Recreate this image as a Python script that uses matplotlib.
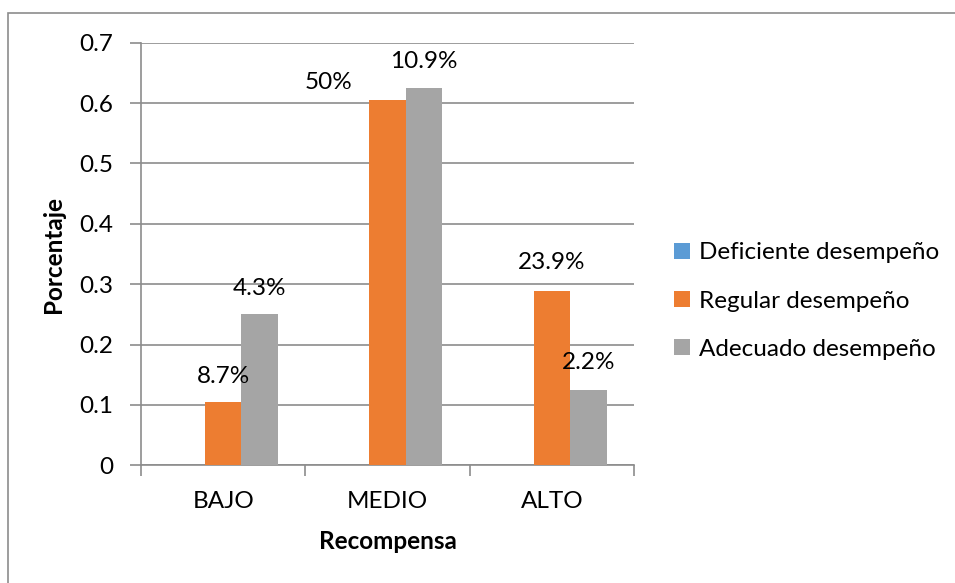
import matplotlib
matplotlib.use("Agg")
import matplotlib.pyplot as plt
from matplotlib.patches import Rectangle
import numpy as np

plt.rcParams['font.family'] = ['Lato', 'DejaVu Sans']

categories = ["BAJO", "MEDIO", "ALTO"]
series_names = ["Deficiente desempeño", "Regular desempeño", "Adecuado desempeño"]
deficiente = [0.0, 0.0, 0.0]
regular = [0.105, 0.605, 0.289]
adecuado = [0.25, 0.625, 0.125]
regular_labels = ["8.7%", "50%", "23.9%"]
adecuado_labels = ["4.3%", "10.9%", "2.2%"]
yticks = [0, 0.1, 0.2, 0.3, 0.4, 0.5, 0.6, 0.7]

colors = ["#5B9BD5", "#ED7D31", "#A5A5A5"]
grid_c = "#8C8C8C"
FS = 17.5

W, H = 955, 583
fig = plt.figure(figsize=(W / 100, H / 100), dpi=100)
fig.patch.set_facecolor("white")

# outer chart-area border
fig.patches.append(Rectangle((8 / W, -0.05), 1.2, 1 - 13 / H + 0.05,
                             transform=fig.transFigure, fill=False,
                             edgecolor="#8C8C8C", linewidth=1.2))

ax = fig.add_axes([141 / W, 1 - 465.3 / H, (634 - 141) / W, (465.3 - 42.7) / H])
x = np.arange(len(categories))
bw = 0.222
all_series = [deficiente, regular, adecuado]
bars = []
for i, (vals, name, c) in enumerate(zip(all_series, series_names, colors)):
    b = ax.bar(x + (i - 1) * bw, vals, width=bw, color=c, label=name, zorder=3)
    bars.append(b)

ax.set_xlim(-0.5, 2.5)
ax.set_ylim(0, 0.7)
ax.set_yticks(yticks)
ax.set_yticklabels([("%g" % v) for v in yticks])
ax.yaxis.grid(True, color=grid_c, linewidth=1.2, zorder=0)
ax.set_axisbelow(True)
for s in ["top", "right"]:
    ax.spines[s].set_visible(False)
for s in ["left", "bottom"]:
    ax.spines[s].set_color(grid_c)
    ax.spines[s].set_linewidth(1.2)

ax.set_xticks(x)
ax.set_xticklabels(categories)
ax.tick_params(axis="x", length=0, pad=18.5, labelsize=FS)
ax.set_xticks([-0.5, 0.5, 1.5, 2.5], minor=True)
ax.tick_params(axis="x", which="minor", length=8, color=grid_c, width=1.2)
ax.tick_params(axis="y", length=8, color=grid_c, width=1.2, pad=12, labelsize=FS)

ax.set_ylabel("Porcentaje", fontsize=FS, fontweight="bold", labelpad=10)
ax.set_xlabel("Recompensa", fontsize=FS, fontweight="bold", labelpad=13)

# data labels
reg_offsets = [(0, 25), (-59, 18), (0, 28)]
ade_offsets = [(0, 26), (0, 26), (0, 27)]
for rect, lab, off in zip(bars[1], regular_labels, reg_offsets):
    ax.annotate(lab, (rect.get_x() + rect.get_width() / 2, rect.get_height()),
                xytext=(off[0] * 0.72, off[1] * 0.72), textcoords="offset points",
                ha="center", va="center", fontsize=FS, zorder=5)
for rect, lab, off in zip(bars[2], adecuado_labels, ade_offsets):
    ax.annotate(lab, (rect.get_x() + rect.get_width() / 2, rect.get_height()),
                xytext=(off[0] * 0.72, off[1] * 0.72), textcoords="offset points",
                ha="center", va="center", fontsize=FS, zorder=5)

fig.legend(handles=bars, labels=series_names, loc="center left",
           bbox_to_anchor=(652 / W, 1 - 301 / H), frameon=False,
           fontsize=FS, handlelength=0.65, handleheight=0.65,
           handletextpad=0.4, labelspacing=1.12)

fig.savefig("out.png", dpi=100)
